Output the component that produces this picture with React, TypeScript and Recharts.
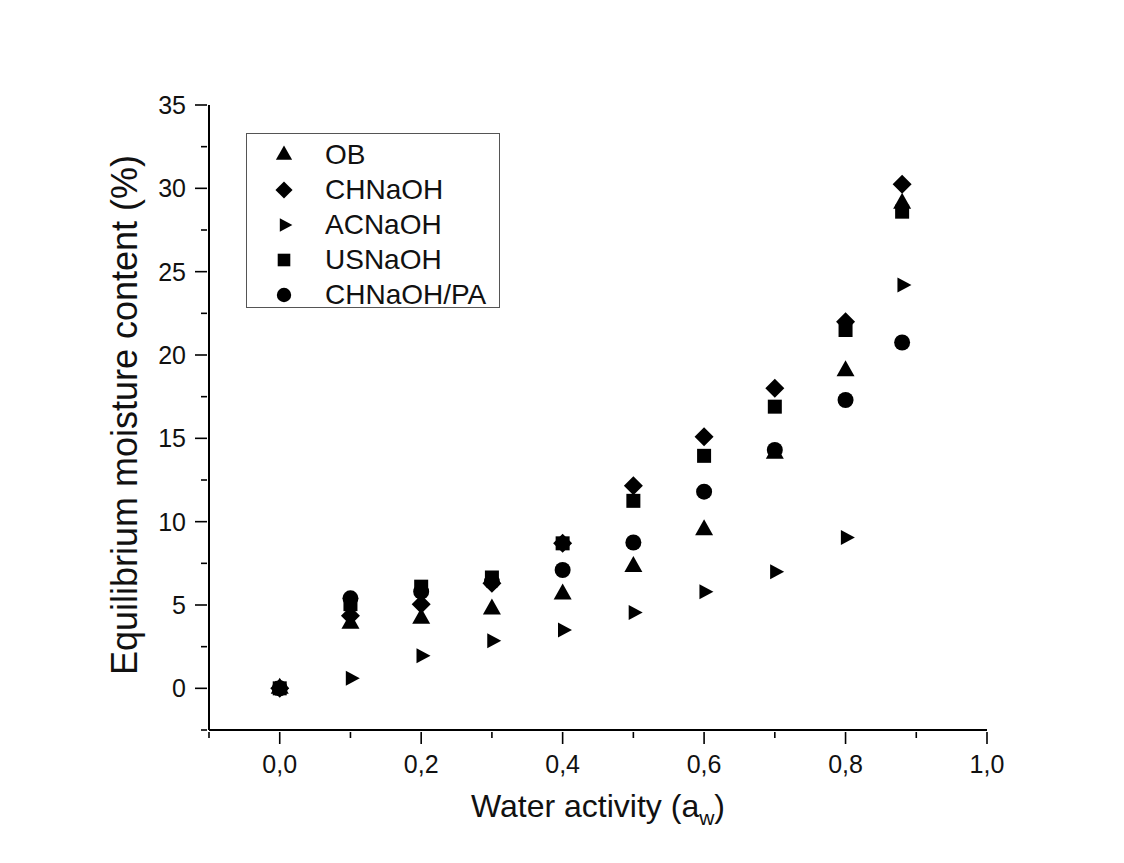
import React from 'react';
import { ScatterChart, Scatter, XAxis, YAxis, Legend, Label } from 'recharts';

// water activity levels
const aw = [0, 0.1, 0.2, 0.3, 0.4, 0.5, 0.6, 0.7, 0.8, 0.88];

// equilibrium moisture content (%)
const ob = [0, 3.9, 4.2, 4.75, 5.65, 7.3, 9.5, 14.1, 19.05, 29.1];
const chNaOH = [0, 4.35, 5.05, 6.3, 8.7, 12.15, 15.1, 18.0, 22.0, 30.25];
const acNaOH = [0, 0.6, 1.95, 2.85, 3.5, 4.55, 5.8, 7.0, 9.05, 24.2];
const usNaOH = [0, 5.05, 6.1, 6.65, 8.7, 11.25, 13.95, 16.9, 21.5, 28.6];
const chNaOHPA = [0, 5.4, 5.8, 6.4, 7.1, 8.75, 11.8, 14.3, 17.3, 20.75];

const xTicks = [-0.1, 0, 0.1, 0.2, 0.3, 0.4, 0.5, 0.6, 0.7, 0.8, 0.9, 1.0];
const yTicks = [-2.5, 0, 2.5, 5, 7.5, 10, 12.5, 15, 17.5, 20, 22.5, 25, 27.5, 30, 32.5, 35];

const FONT = '"Liberation Sans", Arial, sans-serif';
const INK = '#000';

type MarkerKind = 'triangle' | 'diamond' | 'right' | 'square' | 'circle';

const Marker = ({ kind, cx, cy, s = 1 }: { kind: MarkerKind; cx: number; cy: number; s?: number }) => {
    if (kind === 'triangle') {
        const w = 9 * s, h = 16 * s;
        return <polygon points={`${cx - w},${cy + h / 3} ${cx + w},${cy + h / 3} ${cx},${cy - (2 * h) / 3}`} fill={INK} />;
    }
    if (kind === 'diamond') {
        const d = 9.5 * s;
        return <polygon points={`${cx},${cy - d} ${cx + d},${cy} ${cx},${cy + d} ${cx - d},${cy}`} fill={INK} />;
    }
    if (kind === 'right') {
        const w = 14 * s, h = 7.5 * s;
        return <polygon points={`${cx - w / 3},${cy - h} ${cx + (2 * w) / 3},${cy} ${cx - w / 3},${cy + h}`} fill={INK} />;
    }
    if (kind === 'square') {
        const a = 7 * s;
        return <rect x={cx - a} y={cy - a} width={2 * a} height={2 * a} fill={INK} />;
    }
    return <circle cx={cx} cy={cy} r={8 * s} fill={INK} />;
};

const series: { name: string; values: number[]; kind: MarkerKind }[] = [
    { name: 'OB', values: ob, kind: 'triangle' },
    { name: 'CHNaOH', values: chNaOH, kind: 'diamond' },
    { name: 'ACNaOH', values: acNaOH, kind: 'right' },
    { name: 'USNaOH', values: usNaOH, kind: 'square' },
    { name: 'CHNaOH/PA', values: chNaOHPA, kind: 'circle' },
];

const toPoints = (values: number[]) => aw.map((x, i) => ({ x, y: values[i] }));

const XTick = (props: any) => {
    const { x, y, payload } = props;
    const k = Math.round(payload.value * 10);
    const major = k % 2 === 0;
    return (
        <g>
            <line x1={x} x2={x} y1={y} y2={y + (major ? 12 : 6)} stroke={INK} strokeWidth={1.6} />
            {major && (
                <text x={x} y={y + 41} textAnchor="middle" fontFamily={FONT} fontSize={25} fill="#111">
                    {payload.value.toFixed(1).replace('.', ',')}
                </text>
            )}
        </g>
    );
};

const YTick = (props: any) => {
    const { x, y, payload } = props;
    const major = payload.value % 5 === 0;
    return (
        <g>
            <line x1={x} x2={x - (major ? 12 : 6)} y1={y} y2={y} stroke={INK} strokeWidth={1.6} />
            {major && (
                <text x={x - 21} y={y} dy="0.36em" textAnchor="end" fontFamily={FONT} fontSize={25} fill="#111">
                    {payload.value}
                </text>
            )}
        </g>
    );
};

const LegendBox = () => (
    <div
        style={{
            boxSizing: 'border-box',
            width: 254,
            height: 175,
            border: '1.5px solid #555',
            background: '#fff',
            paddingTop: 3,
        }}
    >
        {series.map((s) => (
            <div key={s.name} style={{ display: 'flex', alignItems: 'center', height: 35 }}>
                <svg width={70} height={30} style={{ flexShrink: 0 }}>
                    <Marker kind={s.kind} cx={37} cy={15} s={0.9} />
                </svg>
                <span style={{ fontFamily: FONT, fontSize: 28, lineHeight: '35px', color: '#111', marginLeft: 8 }}>{s.name}</span>
            </div>
        ))}
    </div>
);

export default function App() {
    return (
        <ScatterChart width={1108} height={847} margin={{ top: 97, right: 129, bottom: 45, left: 121 }}>
            <XAxis
                type="number"
                dataKey="x"
                domain={[-0.1, 1.0]}
                ticks={xTicks}
                interval={0}
                allowDataOverflow
                height={80}
                tickSize={0}
                tickLine={false}
                axisLine={{ stroke: INK, strokeWidth: 2 }}
                tick={<XTick />}
            >
                <Label
                    content={() => (
                        <text x={590} y={809} textAnchor="middle" fontFamily={FONT} fontSize={32} fill="#111">
                            Water activity (a
                            <tspan dy={8} fontSize={21}>w</tspan>
                            <tspan dy={-8}>)</tspan>
                        </text>
                    )}
                />
            </XAxis>
            <YAxis
                type="number"
                dataKey="y"
                domain={[-2.5, 35]}
                ticks={yTicks}
                interval={0}
                allowDataOverflow
                width={80}
                tickSize={0}
                tickLine={false}
                axisLine={{ stroke: INK, strokeWidth: 2 }}
                tick={<YTick />}
            >
                <Label
                    content={() => (
                        <text
                            x={116}
                            y={407}
                            transform="rotate(-90 116 407)"
                            textAnchor="middle"
                            dominantBaseline="central"
                            fontFamily={FONT}
                            fontSize={36}
                            fill="#111"
                        >
                            Equilibrium moisture content (%)
                        </text>
                    )}
                />
            </YAxis>
            <Legend
                layout="vertical"
                align="center"
                verticalAlign="middle"
                content={() => <LegendBox />}
                wrapperStyle={{ position: 'absolute', left: 238, top: 125, width: 254, height: 175 }}
            />
            {series.map((s) => (
                <Scatter
                    key={s.name}
                    name={s.name}
                    data={toPoints(s.values)}
                    fill={INK}
                    isAnimationActive={false}
                    shape={(p: any) => <Marker kind={s.kind} cx={p.cx} cy={p.cy} />}
                />
            ))}
        </ScatterChart>
    );
}
